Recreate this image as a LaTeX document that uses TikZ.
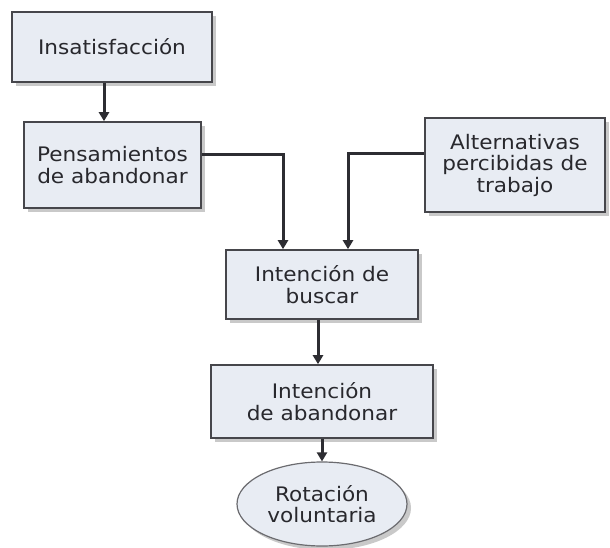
\documentclass[tikz,border=0pt]{standalone}
\usepackage{fontspec}
\setmainfont[FakeStretch=1.08]{DejaVu Sans}
\usetikzlibrary{shapes.geometric,arrows.meta,shadows,calc}
\definecolor{boxfill}{RGB}{232,236,243}
\definecolor{boxline}{RGB}{70,70,75}
\definecolor{arrowc}{RGB}{45,45,50}
\definecolor{txt}{RGB}{40,40,45}
\tikzset{
  x=1pt,y=1pt,
  boxnode/.style={draw=boxline, line width=1.6pt, fill=boxfill, align=center,
    inner sep=0pt, text=txt,
    font=\fontsize{20}{21.5}\selectfont,
    drop shadow={shadow xshift=4pt, shadow yshift=-4pt, fill=black!35, opacity=0.6}},
  ovalnode/.style={boxnode, ellipse, line width=1.2pt, draw=boxline!80},
  conn/.style={draw=arrowc, line width=3pt, -{Triangle[length=9pt,width=10pt]}}
}
\begin{document}
\begin{tikzpicture}
\useasboundingbox (0,0) rectangle (610,-548);
\fill[white] (0,0) rectangle (610,-548);
\node[boxnode, minimum width=200, minimum height=70] (ins) at (112,-47) {Insatisfacción};
\node[boxnode, minimum width=177, minimum height=86] (pen) at (112.5,-165) {Pensamientos\\de abandonar};
\node[boxnode, minimum width=180, minimum height=94] (alt) at (515,-165) {Alternativas\\percibidas de\\trabajo};
\node[boxnode, minimum width=192, minimum height=69] (bus) at (322,-284.5) {Intención de\\buscar};
\node[boxnode, minimum width=222, minimum height=73] (aba) at (322,-401.5) {Intención\\de abandonar};
\node[ovalnode, minimum width=170, minimum height=84] (rot) at (322,-504) {Rotación\\voluntaria};
\draw[conn] ([xshift=-8]ins.south) -- ([xshift=-8]ins.south |- pen.north);
\draw[conn] ([yshift=10]pen.east) -| ([xshift=-39]bus.north);
\draw[conn] ([yshift=11]alt.west) -| ([xshift=26]bus.north);
\draw[conn] ([xshift=-4]bus.south) -- ([xshift=-4]bus.south |- aba.north);
\draw[conn] (aba.south) -- (rot.north);
\end{tikzpicture}
\end{document}
